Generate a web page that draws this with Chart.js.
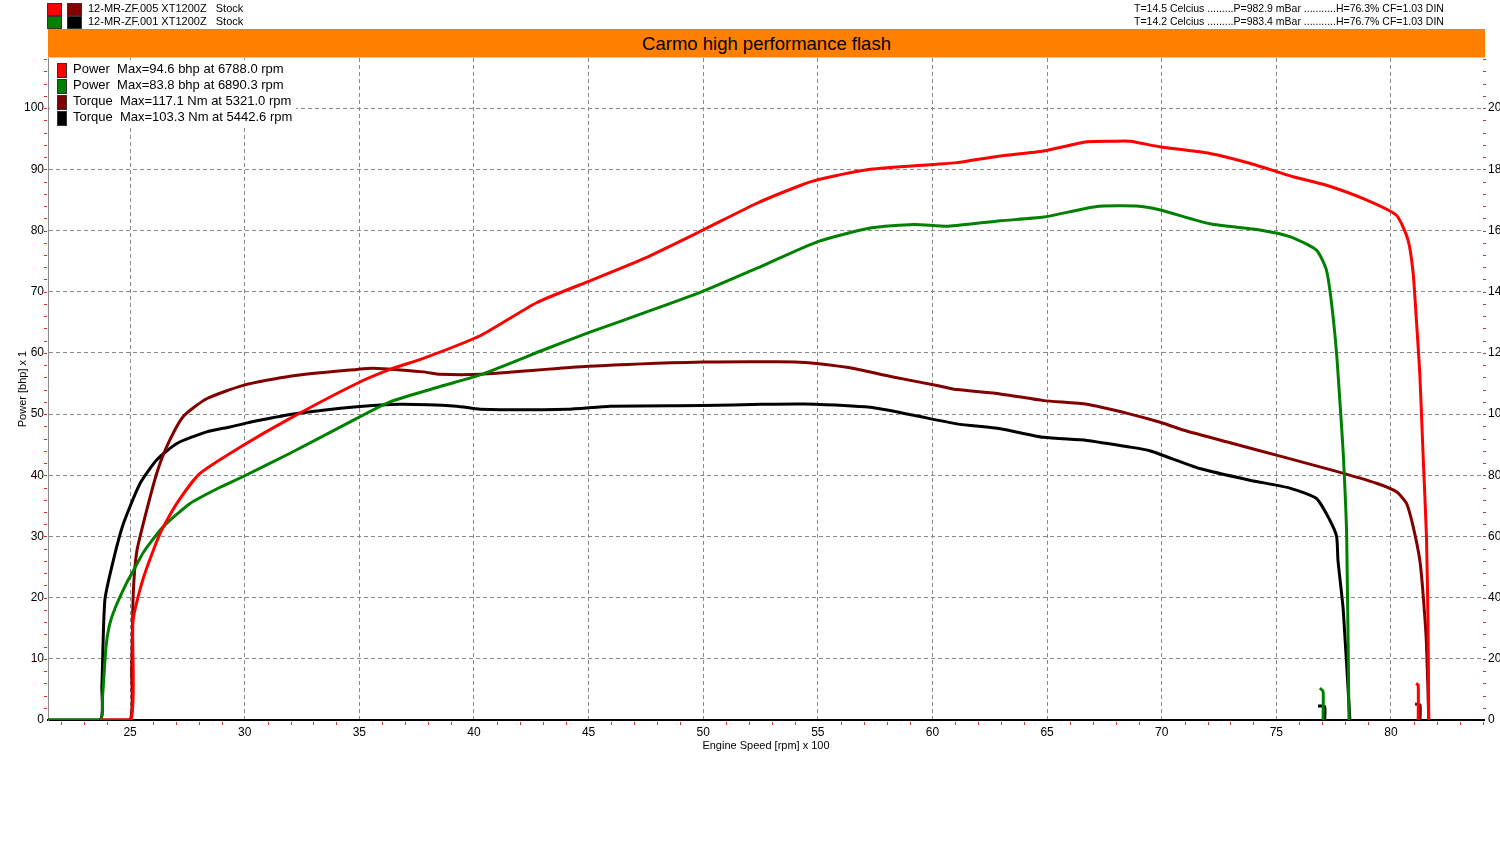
<!DOCTYPE html>
<html>
<head>
<meta charset="utf-8">
<script src="https://cdn.jsdelivr.net/npm/chart.js@4.4.1/dist/chart.umd.min.js"></script>
<style>
  html, body { margin: 0; padding: 0; background: #fff; overflow: hidden; }
  #wrap { position: relative; width: 1500px; height: 850px; font-family: "Liberation Sans", Arial, sans-serif; }
  #grafico { position: absolute; left: 0; top: 0; }
  .hdr { position: absolute; font-size: 11px; line-height: 13px; white-space: pre; color: #000; }
  .hdr.dir { font-size: 10.5px; }
  .sq { position: absolute; width: 13px; height: 11px; border: 1px solid #333; }
  #titulo { position: absolute; left: 48px; top: 29px; width: 1437px; height: 28px; background: #ff8000;
            border-bottom: 1px solid #d9c9a8; text-align: center; font-size: 18.5px; line-height: 29px; color: #000; }
  #legenda { position: absolute; left: 50px; top: 60px; width: 246px; height: 66px; background: #fff; }
  .leg { position: absolute; left: 23px; font-size: 13px; line-height: 16px; white-space: pre; }
  .legsq { position: absolute; left: 7px; width: 8px; height: 13px; border: 1px solid #333; }
</style>
</head>
<body>
<div id="wrap">
  <canvas id="grafico" width="1500" height="850"></canvas>
  <div class="sq" style="left:47px;top:3px;background:#ff0000"></div>
  <div class="sq" style="left:67px;top:3px;background:#800000"></div>
  <div class="sq" style="left:47px;top:16px;background:#008000"></div>
  <div class="sq" style="left:67px;top:16px;background:#000000"></div>
  <div class="hdr" style="left:88px;top:2px">12-MR-ZF.005 XT1200Z   Stock</div>
  <div class="hdr" style="left:88px;top:15px">12-MR-ZF.001 XT1200Z   Stock</div>
  <div class="hdr dir" style="left:1134px;top:2px">T=14.5 Celcius .........P=982.9 mBar ...........H=76.3% CF=1.03 DIN</div>
  <div class="hdr dir" style="left:1134px;top:15px">T=14.2 Celcius .........P=983.4 mBar ...........H=76.7% CF=1.03 DIN</div>
  <div id="titulo">Carmo high performance flash</div>
  <div id="legenda"></div>
</div>
<script>
// eixo x em rpm x 100, potencia em bhp (eixo esquerdo), torque em Nm (eixo direito)
const rpmVermelho = [23.7, 25.04, 25.13, 25.58, 26.31, 27.04, 28.05, 29.94, 31.98, 34.89, 36.34, 37.79, 40.27, 42.73, 45.0, 47.46, 50.0, 52.37, 54.26, 55.0, 57.29, 60.0, 61.07, 62.96, 64.85, 66.74, 67.9, 68.63, 69.9, 72.1, 73.84, 75.73, 77.19, 78.93, 80.24, 80.75, 80.97, 81.11, 81.26, 81.4, 81.55, 81.62, 81.65, 81.65, 81.1, 81.19, 81.19];
const potVermelho = [0, 0, 16.3, 23.2, 30.5, 35.4, 40.3, 44.9, 49.3, 55.0, 57.3, 59.1, 62.8, 68.2, 71.7, 75.5, 80.1, 84.5, 87.4, 88.3, 90.0, 90.8, 91.1, 92.2, 93.0, 94.5, 94.6, 94.6, 93.7, 92.6, 91.0, 88.8, 87.4, 85.0, 82.5, 78.4, 73.0, 65.4, 56.6, 43.6, 30.0, 15.2, 0, null, 6.0, 5.7, 0];

const rpmVerde = [21.42, 23.7, 23.8, 23.95, 24.1, 24.35, 24.85, 25.13, 25.6, 26.45, 27.62, 28.8, 29.94, 31.98, 34.89, 36.34, 38.52, 40.27, 43.11, 45.0, 47.84, 50.0, 52.56, 55.0, 57.29, 59.18, 60.69, 62.96, 64.85, 67.12, 68.9, 69.9, 72.1, 74.28, 75.59, 76.75, 77.19, 77.41, 77.63, 77.78, 77.92, 78.07, 78.17, 78.17, 76.9, 77.04, 77.04];
const potVerde = [0, 0, 3.8, 12.0, 15.5, 18.3, 22.4, 24.3, 27.5, 31.6, 35.4, 37.8, 39.8, 43.6, 49.3, 52.0, 54.5, 56.4, 60.6, 63.3, 67.1, 70.1, 74.2, 78.2, 80.4, 81.0, 80.7, 81.6, 82.2, 83.9, 84.0, 83.4, 81.1, 80.1, 79.0, 76.8, 73.5, 68.1, 59.9, 51.7, 43.6, 30.0, 0, null, 5.2, 4.7, 0];

const rpmVinho = [23.7, 25.0, 25.07, 25.14, 25.29, 25.65, 26.16, 26.6, 27.32, 28.34, 29.94, 31.98, 34.89, 35.61, 37.79, 38.52, 40.27, 45.0, 50.0, 53.2, 54.45, 56.34, 58.23, 60.31, 61.07, 62.96, 64.85, 66.74, 68.63, 69.9, 70.93, 73.11, 75.29, 77.47, 79.37, 80.24, 80.68, 80.97, 81.26, 81.4, 81.55, 81.65, 81.65, 81.05, 81.27, 81.27];
const torqueVinho = [0, 0, 16.4, 41.4, 55.0, 66.4, 80.6, 89.4, 99.2, 105.0, 109.4, 112.4, 114.6, 115.0, 113.8, 113.0, 113.0, 115.6, 117.0, 117.1, 116.9, 115.2, 112.2, 109.2, 108.0, 106.6, 104.4, 103.2, 100.0, 97.4, 94.8, 90.4, 86.0, 81.6, 77.4, 74.6, 70.8, 63.2, 52.2, 41.4, 25.0, 0, null, 5.2, 5.0, 0];

const rpmPreto = [21.42, 23.69, 23.77, 23.9, 24.27, 24.71, 25.44, 26.16, 27.04, 28.34, 29.36, 30.53, 32.27, 34.89, 36.77, 39.25, 40.27, 44.05, 45.95, 50.0, 52.56, 54.4, 57.29, 59.18, 61.07, 62.96, 64.85, 66.74, 68.63, 69.48, 71.66, 73.84, 75.59, 76.75, 77.33, 77.63, 77.69, 77.92, 78.21, 78.21, 76.82, 77.11, 77.11];
const torquePreto = [0, 0, 10.8, 39.2, 52.2, 64.2, 77.4, 85.0, 90.4, 94.2, 95.8, 97.8, 100.2, 102.4, 103.2, 102.6, 101.6, 101.6, 102.6, 102.8, 103.2, 103.3, 102.2, 99.6, 96.8, 95.2, 92.4, 91.4, 89.2, 88.0, 82.2, 78.4, 75.8, 72.4, 65.4, 60.0, 52.2, 36.0, 0, null, 4.6, 4.4, 0];

const legendas = [
  'Power  Max=94.6 bhp at 6788.0 rpm',
  'Power  Max=83.8 bhp at 6890.3 rpm',
  'Torque  Max=117.1 Nm at 5321.0 rpm',
  'Torque  Max=103.3 Nm at 5442.6 rpm'
];
const cores = ['#ff0000', '#008000', '#800000', '#000000'];

const ticksRpm = [25, 30, 35, 40, 45, 50, 55, 60, 65, 70, 75, 80];
const ticksPotencia = [0, 10, 20, 30, 40, 50, 60, 70, 80, 90, 100];
const ticksTorque = [0, 20, 40, 60, 80, 100, 120, 140, 160, 180, 200];

function pontos(xs, ys) {
  return xs.map(function (x, i) { return { x: x, y: ys[i] }; });
}

// tracinhos vermelhos pequenos nos eixos
const tracinhos = {
  id: 'tracinhos',
  afterDraw(chart) {
    const ctx = chart.ctx;
    const a = chart.chartArea;
    const sx = chart.scales.x, sy = chart.scales.y, sy2 = chart.scales.y2;
    ctx.save();
    ctx.strokeStyle = '#c83232';
    ctx.lineWidth = 1;
    ctx.beginPath();
    for (let v = Math.ceil(sx.min); v <= sx.max; v++) {
      if (v % 5 === 0) continue;
      const px = Math.round(sx.getPixelForValue(v)) + 0.5;
      ctx.moveTo(px, a.bottom + 2);
      ctx.lineTo(px, a.bottom + 5);
    }
    for (let v = 2; v <= sy.max; v += 2) {
      const py = Math.round(sy.getPixelForValue(v)) + 0.5;
      ctx.moveTo(a.left - 4, py);
      ctx.lineTo(a.left - 1, py);
    }
    for (let v = 4; v <= sy2.max; v += 4) {
      const py = Math.round(sy2.getPixelForValue(v)) + 0.5;
      ctx.moveTo(a.right - 1, py);
      ctx.lineTo(a.right + 2, py);
    }
    ctx.stroke();
    ctx.restore();
  }
};

Chart.defaults.font.family = '"Liberation Sans", Arial, sans-serif';
Chart.defaults.font.size = 12;
Chart.defaults.color = '#000';

const dados = {
  datasets: [
    { label: legendas[0], data: pontos(rpmVermelho, potVermelho), yAxisID: 'y', borderColor: cores[0] },
    { label: legendas[1], data: pontos(rpmVerde, potVerde), yAxisID: 'y', borderColor: cores[1] },
    { label: legendas[2], data: pontos(rpmVinho, torqueVinho), yAxisID: 'y2', borderColor: cores[2] },
    { label: legendas[3], data: pontos(rpmPreto, torquePreto), yAxisID: 'y2', borderColor: cores[3] }
  ]
};
dados.datasets.forEach(function (d) {
  d.borderWidth = 3;
  d.pointRadius = 0;
  d.tension = 0.2;
  d.fill = false;
});

const grade = { color: '#8a8a8a', lineWidth: 1, drawTicks: false };

const config = {
  type: 'line',
  data: dados,
  plugins: [tracinhos],
  options: {
    responsive: false,
    animation: false,
    devicePixelRatio: 1,
    layout: { padding: { left: 12, right: 0, top: 58, bottom: 95 } },
    plugins: { legend: { display: false }, title: { display: false }, tooltip: { enabled: false } },
    scales: {
      x: {
        type: 'linear', position: 'bottom', min: 21.42, max: 84.06,
        afterBuildTicks: function (s) { s.ticks = ticksRpm.map(function (v) { return { value: v }; }); },
        afterFit: function (s) { s.height = 35; },
        grid: grade,
        border: { color: '#000', width: 2, dash: [4, 3] },
        ticks: { padding: 5, maxRotation: 0, autoSkip: false },
        title: { display: true, text: 'Engine Speed [rpm] x 100', font: { size: 11 }, padding: { top: 2, bottom: 2 } }
      },
      y: {
        type: 'linear', position: 'left', min: 0, max: 108.2,
        afterBuildTicks: function (s) { s.ticks = ticksPotencia.map(function (v) { return { value: v }; }); },
        afterFit: function (s) { s.width = 36; },
        grid: grade,
        border: { color: '#8a8a8a', width: 1, dash: [4, 3] },
        ticks: { padding: 4, autoSkip: false },
        title: { display: true, text: 'Power [bhp] x 1', font: { size: 11 }, padding: { top: 4, bottom: 0 } }
      },
      y2: {
        type: 'linear', position: 'right', min: 0, max: 216.4,
        afterBuildTicks: function (s) { s.ticks = ticksTorque.map(function (v) { return { value: v }; }); },
        afterFit: function (s) { s.width = 16; },
        grid: { drawOnChartArea: false, drawTicks: false },
        border: { display: false },
        ticks: { padding: 4, autoSkip: false }
      }
    }
  }
};

const grafico = new Chart(document.getElementById('grafico'), config);

// legenda dentro da area do grafico
const caixa = document.getElementById('legenda');
dados.datasets.forEach(function (d, i) {
  const q = document.createElement('div');
  q.className = 'legsq';
  q.style.top = (3 + i * 16) + 'px';
  q.style.background = d.borderColor;
  caixa.appendChild(q);
  const t = document.createElement('div');
  t.className = 'leg';
  t.style.top = (1 + i * 16) + 'px';
  t.textContent = d.label;
  caixa.appendChild(t);
});
</script>
</body>
</html>
